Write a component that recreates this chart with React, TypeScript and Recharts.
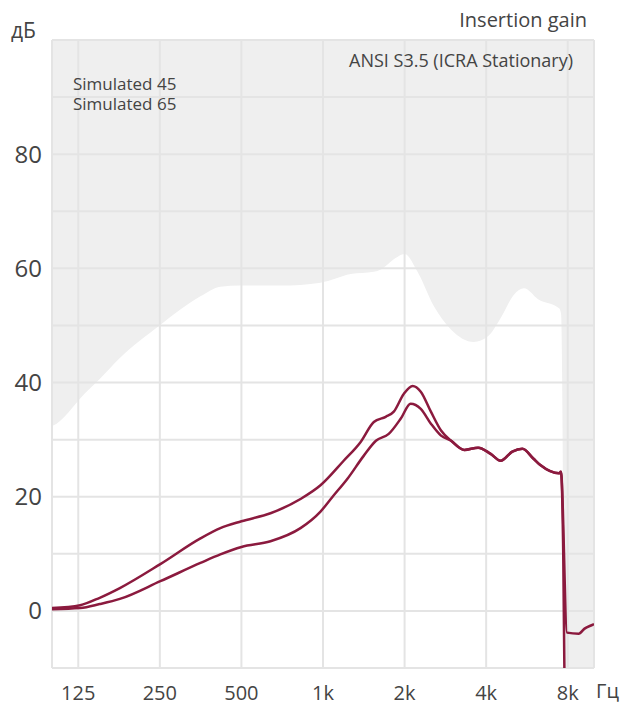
import { ComposedChart, Line, Area, XAxis, YAxis, CartesianGrid } from 'recharts';

// frequency axis (Hz) and labels
const freqTicks = [100, 125, 250, 500, 1000, 2000, 4000, 8000, 10000];
const freqLabels = ['', '125', '250', '500', '1k', '2k', '4k', '8k', ''];

// level axis (dB)
const dbTicks = [-10, 0, 10, 20, 30, 40, 50, 60, 70, 80, 90, 100];
const dbLabeled = [0, 20, 40, 60, 80];

// ANSI S3.5 (ICRA Stationary) limit curve
const limitFreq = [100, 104, 109, 117, 127, 150, 178, 251, 353, 418, 496, 697, 980, 1265, 1540, 1634, 1853, 2000, 2238, 2563, 2966, 3600, 4062, 4537, 5064, 5518, 6216, 7435, 7560, 7780];
const limitDb = [32.4, 32.8, 33.6, 35.2, 37.2, 40.6, 44.3, 50.1, 55.1, 56.8, 57, 57, 57.5, 59, 59.4, 59.8, 61.8, 62.5, 59.3, 53.4, 49.3, 47.1, 48.1, 51.4, 55.4, 56.5, 54.6, 53, 52, -10];

// Simulated 65
const sim65Freq = [100, 127, 150, 178, 251, 353, 418, 500, 640, 826, 979, 1192, 1377, 1540, 1704, 1825, 1986, 2141, 2295, 2501, 2726, 2970, 3323, 3737, 4156, 4523, 4996, 5443, 5970, 6357, 7426, 7552, 7700, 7850];
const sim65Db = [0.5, 1.0, 2.3, 4.0, 8.2, 12.7, 14.5, 15.7, 17.1, 19.6, 22.0, 26.3, 29.6, 33.1, 34.0, 34.9, 38.0, 39.4, 38.4, 34.9, 31.6, 29.8, 28.2, 28.6, 27.5, 26.3, 27.9, 28.4, 26.7, 25.5, 24.1, 24.4, 10, -30];

// Simulated 45
const sim45Freq = [100, 127, 150, 178, 251, 353, 418, 500, 640, 826, 979, 1085, 1233, 1415, 1568, 1748, 1937, 2105, 2295, 2501, 2726, 2970, 3323, 3737, 4156, 4523, 4996, 5443, 5970, 6357, 7426, 7552, 7950, 8780, 9230, 9908, 10000];
const sim45Db = [0.3, 0.5, 1.2, 2.1, 5.2, 8.4, 9.9, 11.2, 12.2, 14.5, 17.4, 20.0, 23.2, 27.2, 29.8, 31.0, 33.7, 36.3, 35.4, 32.8, 30.7, 29.8, 28.2, 28.6, 27.5, 26.3, 27.9, 28.4, 26.7, 25.5, 24.1, 24.3, -3.8, -4.0, -3.1, -2.4, -2.3];

const zip = (f: number[], v: number[]) => f.map((x, i) => ({ f: x, v: v[i] }));

const limitData = zip(limitFreq, limitDb);
const sim65Data = zip(sim65Freq, sim65Db);
const sim45Data = zip(sim45Freq, sim45Db);

const FONT = '"Open Sans", sans-serif';
const TEXT = '#444';
const LINE = '#8b1a3e';
const GRID = '#e4e4e4';

export default function App() {
  return (
    <div style={{ position: 'absolute', left: 0, top: 0, width: 621, height: 707, fontFamily: FONT, background: '#fff' }}>
      <ComposedChart width={621} height={707} margin={{ top: 40, right: 27, bottom: 0, left: 0 }} style={{ fontFamily: FONT }}>
        <CartesianGrid horizontal={false} vertical={false} fill="#efefef" />
        <XAxis
          dataKey="f"
          type="number"
          scale="log"
          domain={[100, 10000]}
          allowDataOverflow
          ticks={freqTicks}
          tickFormatter={(v: number) => freqLabels[freqTicks.indexOf(v)] ?? ''}
          axisLine={false}
          tickLine={false}
          tickSize={0}
          tickMargin={18}
          height={39}
          interval={0}
          tick={{ fill: TEXT, fontSize: 20, fontFamily: FONT }}
        />
        <YAxis
          dataKey="v"
          type="number"
          domain={[-10, 100]}
          allowDataOverflow
          ticks={dbTicks}
          tickFormatter={(v: number) => (dbLabeled.includes(v) ? String(v) : '')}
          axisLine={false}
          tickLine={false}
          tickSize={0}
          tickMargin={10}
          width={52}
          interval={0}
          tick={{ fill: TEXT, fontSize: 24, fontFamily: FONT }}
        />
        <Area
          data={limitData}
          dataKey="v"
          type="monotone"
          baseValue={-10}
          stroke="none"
          fill="#ffffff"
          fillOpacity={1}
          isAnimationActive={false}
        />
        <CartesianGrid stroke={GRID} strokeWidth={2} zIndex={150} />
        <Line data={sim65Data} dataKey="v" type="monotone" stroke={LINE} strokeWidth={2.5} dot={false} isAnimationActive={false} />
        <Line data={sim45Data} dataKey="v" type="monotone" stroke={LINE} strokeWidth={2.5} dot={false} isAnimationActive={false} />
      </ComposedChart>
      <div style={{ position: 'absolute', left: 11, top: 20, fontSize: 21, lineHeight: '21px', color: TEXT }}>дБ</div>
      <div style={{ position: 'absolute', right: 34, top: 10, fontSize: 20, lineHeight: '20px', color: TEXT }}>Insertion gain</div>
      <div style={{ position: 'absolute', left: 349, top: 51, fontSize: 18, lineHeight: '18px', color: TEXT }}>ANSI S3.5 (ICRA Stationary)</div>
      <div style={{ position: 'absolute', left: 73, top: 74, fontSize: 17, lineHeight: '20px', color: TEXT }}>
        Simulated 45
        <br />
        Simulated 65
      </div>
      <div style={{ position: 'absolute', left: 596, top: 681, fontSize: 20, lineHeight: '20px', color: TEXT }}>Гц</div>
    </div>
  );
}
